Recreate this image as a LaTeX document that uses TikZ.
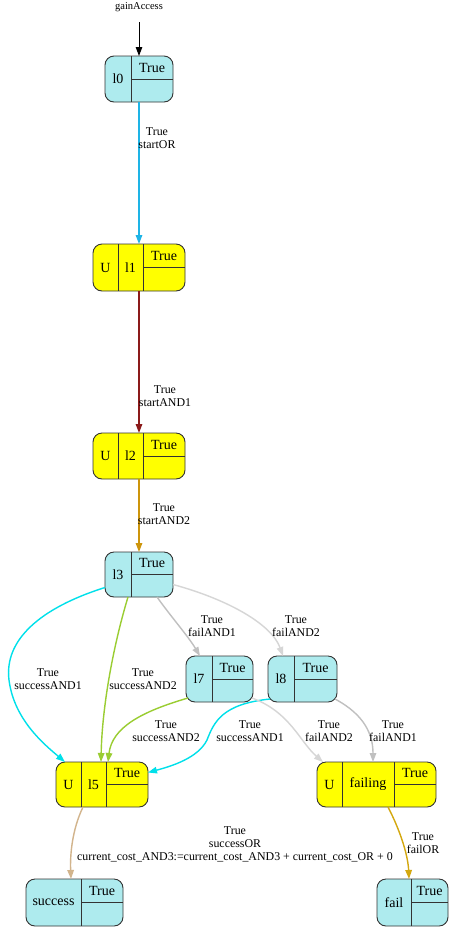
\documentclass[tikz,border=0pt]{standalone}
\usepackage{fontspec}
\setmainfont{Liberation Serif}
\usetikzlibrary{arrows.meta}
\definecolor{ncyan}{HTML}{AEEBEE}
\definecolor{nyellow}{HTML}{FFFF00}
\definecolor{nborder}{HTML}{333333}
\definecolor{cblue}{HTML}{1EB4E6}
\definecolor{cdarkred}{HTML}{8B1A1A}
\definecolor{cgold}{HTML}{CD950C}
\definecolor{ccyan}{HTML}{00E0EA}
\definecolor{cgreen}{HTML}{9ACD32}
\definecolor{cgray}{HTML}{C0C0C0}
\definecolor{clgray}{HTML}{D6D6D6}
\definecolor{ctan}{HTML}{D2B48C}
\definecolor{cgoldenrod}{HTML}{D4A810}
\tikzset{
  rec/.style={draw=nborder, line width=0.9pt, rounded corners=9pt, inner sep=0pt, outer sep=0pt},
  recline/.style={draw=nborder, line width=0.9pt},
  celltxt/.style={font=\fontsize{14}{16}\selectfont, inner sep=0pt},
  elab/.style={font=\fontsize{11.9}{13}\selectfont, align=center, inner sep=0pt},
  arr/.style={line width=1.4pt, -{Triangle[length=9pt,width=6.5pt]}},
}
% two-column record: name, x1, y1, x2, y2, divider x, label, fill
\newcommand{\recA}[8]{%
  \node[rec, fill=#8, minimum width={#4-#2}, minimum height={#5-#3}] (#1) at ({(#2+#4)/2},{(#3+#5)/2}) {};
  \draw[recline] (#6,#3) -- (#6,#5);
  \draw[recline] (#6,{(#3+#5)/2}) -- (#4,{(#3+#5)/2});
  \node[celltxt] (#1-lab) at ({(#2+#6)/2},{(#3+#5)/2}) {#7};
  \node[celltxt] (#1-true) at ({(#6+#4)/2},{(3*#3+#5)/4}) {True};
}
% three-column record: name, x1, y1, x2, y2, divider1, divider2, label, fill
\newcommand{\recB}[9]{%
  \node[rec, fill=#9, minimum width={#4-#2}, minimum height={#5-#3}] (#1) at ({(#2+#4)/2},{(#3+#5)/2}) {};
  \draw[recline] (#6,#3) -- (#6,#5);
  \draw[recline] (#7,#3) -- (#7,#5);
  \draw[recline] (#7,{(#3+#5)/2}) -- (#4,{(#3+#5)/2});
  \node[celltxt] (#1-u) at ({(#2+#6)/2},{(#3+#5)/2}) {U};
  \node[celltxt] (#1-lab) at ({(#6+#7)/2},{(#3+#5)/2}) {#8};
  \node[celltxt] (#1-true) at ({(#7+#4)/2},{(3*#3+#5)/4}) {True};
}
\begin{document}
\begin{tikzpicture}[x=1pt,y=-1pt]
\useasboundingbox (0,0) rectangle (449,930);
\fill[white] (0,0) rectangle (449,930);

% nodes
\recA{l0}{105}{56}{173}{102}{131}{l0}{ncyan}
\recB{l1}{93}{244}{185}{291}{118}{143}{l1}{nyellow}
\recB{l2}{93}{433}{185}{479}{118}{143}{l2}{nyellow}
\recA{l3}{105}{552}{173}{597}{131}{l3}{ncyan}
\recA{l7}{186}{656}{253}{702}{212}{l7}{ncyan}
\recA{l8}{268}{656}{337}{702}{294}{l8}{ncyan}
\recB{l5}{56}{762}{148}{807}{81}{106}{l5}{nyellow}
\recB{failing}{317}{762}{436}{807}{342}{394}{failing}{nyellow}
\recA{success}{26}{879}{123}{926}{81}{success}{ncyan}
\recA{fail}{377}{879}{448}{926}{411}{fail}{ncyan}

% initial arrow
\node[elab, font=\fontsize{10.5}{12}\selectfont] (ga) at (139,7) {gainAccess};
\coordinate (gastart) at (139,22);
\draw[arr, black, line width=1pt] (gastart) -- (l0.north);

% edges
\draw[arr, cblue] (l0.south) -- (l1.north);
\node[elab] (e01) at (157,138.5) {True\\startOR};

\draw[arr, cdarkred] (l1.south) -- (l2.north);
\node[elab] (e12) at (165,396.5) {True\\startAND1};

\draw[arr, cgold] (l2.south) -- (l3.north);
\node[elab] (e23) at (164,514.5) {True\\startAND2};

% l3 -> l5 successAND1
\draw[arr, ccyan] ([yshift=-13pt]l3.west) .. controls (40,608) and (4,640) .. (9,680)
   .. controls (14,720) and (45,745) .. ([xshift=-37pt]l5.north);
\node[elab] (e35a) at (48,679.5) {True\\successAND1};

% l3 -> l5 successAND2
\draw[arr, cgreen] ([xshift=-11pt]l3.south) .. controls (112,650) and (102,710) .. ([xshift=-1pt]l5.north);
\node[elab] (e35b) at (143,679.5) {True\\successAND2};

% l3 -> l7 failAND1
\draw[arr, cgray] ([xshift=18pt]l3.south) .. controls (172,618) and (188,636) .. ([xshift=-19.5pt]l7.north);
\node[elab] (e37) at (212,626) {True\\failAND1};

% l3 -> l8 failAND2
\draw[arr, clgray] ([yshift=-10pt]l3.east) .. controls (230,600) and (272,625) .. ([xshift=-19.5pt]l8.north);
\node[elab] (e38) at (296,626) {True\\failAND2};

% l7 -> l5 successAND2
\draw[arr, cgreen] ([xshift=2pt,yshift=4pt]l7.south west) .. controls (140,712) and (112,728) .. ([xshift=6pt]l5.north);
\node[elab] (e75) at (166,731.5) {True\\successAND2};

% l8 -> l5 successAND1
\draw[arr, ccyan] ([xshift=2pt,yshift=3pt]l8.south west) .. controls (222,704) and (214,722) .. (207,740)
   .. controls (198,758) and (172,766) .. ([yshift=12pt]l5.east);
\node[elab] (e85) at (250,731.5) {True\\successAND1};

% l7 -> failing failAND2
\draw[arr, clgray] ([xshift=-1pt,yshift=4pt]l7.south east) .. controls (290,712) and (300,742) .. ([xshift=-53.5pt]failing.north);
\node[elab] (e7f) at (329,731.5) {True\\failAND2};

% l8 -> failing failAND1
\draw[arr, cgray] ([xshift=-2pt,yshift=3pt]l8.south east) .. controls (365,715) and (373,735) .. ([xshift=-3.5pt]failing.north);
\node[elab] (e8f) at (393,731.5) {True\\failAND1};

% l5 -> success
\draw[arr, ctan] ([xshift=-19pt]l5.south) .. controls (72,830) and (70,855) .. ([xshift=-3.5pt]success.north);
\node[elab] (e5s) at (235,844) {True\\successOR\\current\_cost\_AND3:=current\_cost\_AND3 + current\_cost\_OR + 0};

% failing -> fail
\draw[arr, cgoldenrod] ([xshift=11.5pt]failing.south) .. controls (400,830) and (408,855) .. ([xshift=-3.5pt]fail.north);
\node[elab] (eff) at (423,843.5) {True\\failOR};
\end{tikzpicture}
\end{document}
